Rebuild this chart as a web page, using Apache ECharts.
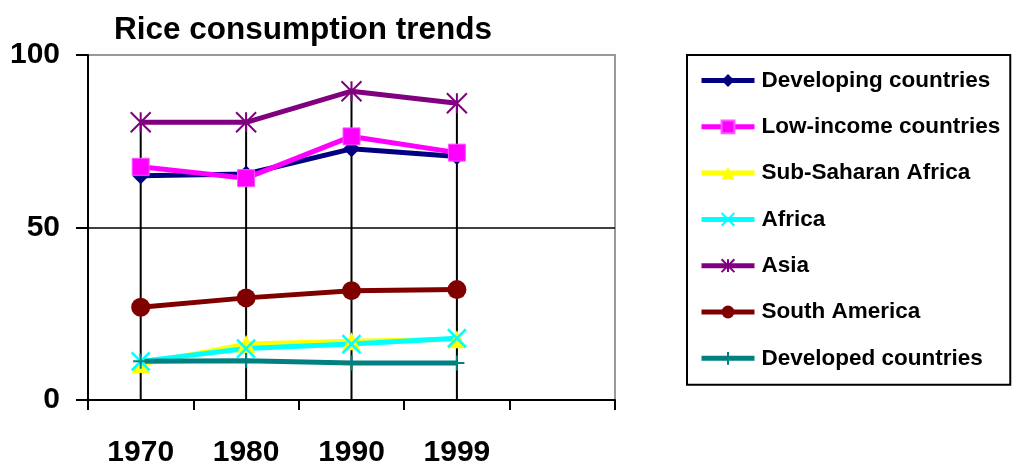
<!DOCTYPE html>
<html>
<head>
<meta charset="utf-8">
<title>Rice consumption trends</title>
<script src="https://cdn.jsdelivr.net/npm/echarts@6/dist/echarts.min.js"></script>
<style>
  html, body { margin: 0; padding: 0; background: #ffffff; overflow: hidden; }
  #chart { width: 1012px; height: 468px; }
</style>
</head>
<body>
<div id="chart"></div>
<script>
// Category axis: four survey years plus one empty slot on the right
const years = ['1970', '1980', '1990', '1999', ''];

// Rice consumption per region
const developingCountries = [65.0, 65.5, 72.8, 70.6];
const lowIncomeCountries  = [67.6, 64.3, 76.4, 71.7];
const subSaharanAfrica    = [10.4, 16.2, 17.0, 17.6];
const africa              = [11.2, 14.9, 16.2, 17.9];
const asia                = [80.5, 80.5, 89.5, 86.0];
const southAmerica        = [26.9, 29.6, 31.7, 32.0];
const developedCountries  = [11.2, 11.4, 10.7, 10.7];

const yTicks = [0, 50, 100];

const FONT = '"Liberation Sans", Arial, sans-serif';

const allSeries = [developingCountries, lowIncomeCountries, subSaharanAfrica,
                   africa, asia, southAmerica, developedCountries];
// Drop lines reach from the highest point of each year down to the axis
const dropTops = developingCountries.map((_, i) => Math.max(...allSeries.map(s => s[i])));

const ASTERISK = 'path://M0,-10L0,10M-10,-10L10,10M-10,10L10,-10';
const CROSS_X  = 'path://M-10,-10L10,10M-10,10L10,-10';
const PLUS     = 'path://M0,-10L0,10M-10,0L10,0';

function lineSeries(name, data, color, symbol, size, extra) {
  return Object.assign({
    name: name,
    type: 'line',
    data: data,
    symbol: symbol,
    symbolSize: size,
    showAllSymbol: true,
    lineStyle: { color: color, width: 5 },
    itemStyle: { color: color, borderColor: color, borderWidth: 0 },
    emphasis: { disabled: true },
    animation: false
  }, extra || {});
}

const chart = echarts.init(document.getElementById('chart'), null, { renderer: 'canvas' });

chart.setOption({
  backgroundColor: '#ffffff',
  animation: false,
  title: {
    text: 'Rice consumption trends',
    left: 114,
    top: 14,
    padding: 0,
    textStyle: { fontFamily: FONT, fontWeight: 'bold', fontSize: 31.5, color: '#000' }
  },
  legend: {
    orient: 'vertical',
    left: 687,
    top: 55,
    padding: [14, 10, 15, 12],
    itemWidth: 53,
    itemHeight: 16,
    itemGap: 23.3,
    borderColor: '#000',
    borderWidth: 2,
    backgroundColor: '#fff',
    lineStyle: { width: 5 },
    data: ['Developing countries', 'Low-income countries', 'Sub-Saharan Africa',
           'Africa', 'Asia', 'South America', 'Developed countries'],
    textStyle: {
      fontFamily: FONT, fontWeight: 'bold', fontSize: 22.5, color: '#000',
      lineHeight: 21, padding: [0, 0, 0, 2]
    }
  },
  grid: {
    left: 88, right: 397, top: 55, bottom: 65,
    show: true,
    borderColor: '#999',
    borderWidth: 2,
    backgroundColor: 'transparent'
  },
  xAxis: {
    type: 'category',
    data: years,
    boundaryGap: true,
    axisLine: { show: true, lineStyle: { color: '#000', width: 2 } },
    axisTick: { show: true, length: 10, lineStyle: { color: '#000', width: 2 } },
    axisLabel: {
      margin: 38,
      fontFamily: FONT, fontWeight: 'bold', fontSize: 30, color: '#000'
    },
    splitLine: { show: false }
  },
  yAxis: {
    type: 'value',
    min: yTicks[0],
    max: yTicks[yTicks.length - 1],
    interval: 50,
    axisLine: { show: true, lineStyle: { color: '#000', width: 2 } },
    axisTick: { show: true, length: 12, lineStyle: { color: '#000', width: 2 } },
    axisLabel: {
      margin: 28,
      padding: [8, 0, 0, 0],
      fontFamily: FONT, fontWeight: 'bold', fontSize: 30, color: '#000'
    },
    splitLine: { show: true, lineStyle: { color: ['#000', '#000', 'transparent'], width: 1.5 } }
  },
  series: [
    {
      name: 'drop lines',
      type: 'bar',
      data: dropTops,
      barWidth: 2,
      silent: true,
      itemStyle: { color: '#000' },
      animation: false
    },
    lineSeries('Developing countries', developingCountries, '#000080', 'diamond', [17, 17]),
    lineSeries('Low-income countries', lowIncomeCountries, '#ff00ff', 'rect', 17,
      { itemStyle: { color: '#ff00ff', borderColor: '#ff55ff', borderWidth: 1 } }),
    lineSeries('Sub-Saharan Africa', subSaharanAfrica, '#ffff00', 'triangle', 18),
    lineSeries('Africa', africa, '#00ffff', CROSS_X, 18,
      { itemStyle: { color: 'none', borderColor: '#00ffff', borderWidth: 2.5 } }),
    lineSeries('Asia', asia, '#800080', ASTERISK, 20,
      { itemStyle: { color: 'none', borderColor: '#800080', borderWidth: 2 } }),
    lineSeries('South America', southAmerica, '#800000', 'circle', 19),
    lineSeries('Developed countries', developedCountries, '#008080', PLUS, 15,
      { itemStyle: { color: 'none', borderColor: '#008080', borderWidth: 2 } })
  ]
});
</script>
</body>
</html>
